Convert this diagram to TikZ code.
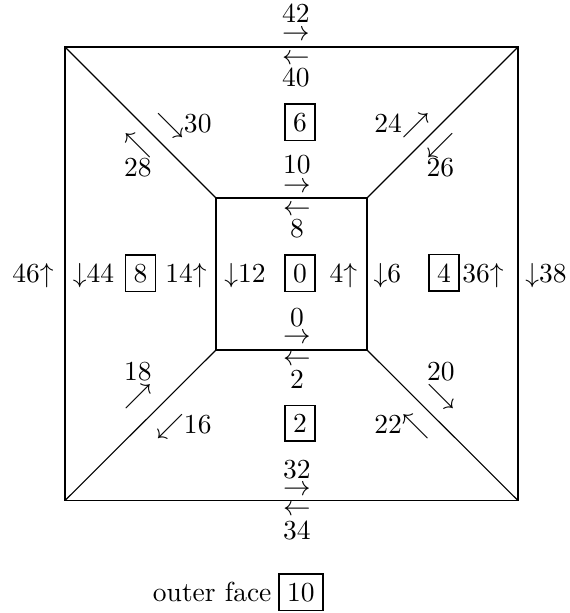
\documentclass[tikz,border=0pt]{standalone}
\begin{document}
\begin{tikzpicture}[x=0.3636pt,y=-0.3636pt,
  lab/.style={inner sep=0pt},
  txt/.style={inner sep=0pt, anchor=base},
  facebox/.style={draw, line width=0.6pt, inner xsep=3pt, inner ysep=3.2pt, anchor=base},
  edgeline/.style={line width=0.4pt}]
\useasboundingbox (0,0) rectangle (570,613);
% vertices
\coordinate (o1) at (65,47);
\coordinate (o2) at (518,47);
\coordinate (o3) at (518,500.5);
\coordinate (o4) at (65,500.5);
\coordinate (i1) at (216,198);
\coordinate (i2) at (367,198);
\coordinate (i3) at (367,350);
\coordinate (i4) at (216,350);
% edges
\draw[edgeline] (o1) -- (o2) -- (o3) -- (o4) -- cycle;
\draw[edgeline] (i1) -- (i2) -- (i3) -- (i4) -- cycle;
\draw[edgeline] (o1) -- (i1);
\draw[edgeline] (o2) -- (i2);
\draw[edgeline] (o3) -- (i3);
\draw[edgeline] (o4) -- (i4);
% horizontal edge labels
\node[lab] (n42) at (296,13.5) {42};
\node[lab] (a42) at (296,35.5) {$\rightarrow$};
\node[lab] (a40) at (296,59.5) {$\leftarrow$};
\node[lab] (n40) at (296,77) {40};
\node[lab] (n10) at (297,165) {10};
\node[lab] (a10) at (297,187.5) {$\rightarrow$};
\node[lab] (a8) at (297,210.5) {$\leftarrow$};
\node[lab] (n8) at (297,229) {8};
\node[lab] (n0) at (297,318) {0};
\node[lab] (a0) at (297,338) {$\rightarrow$};
\node[lab] (a2) at (297,360.5) {$\leftarrow$};
\node[lab] (n2) at (297,379) {2};
\node[lab] (n32) at (297,470) {32};
\node[lab] (a32) at (297,490.5) {$\rightarrow$};
\node[lab] (a34) at (297,510.5) {$\leftarrow$};
\node[lab] (n34) at (297,530) {34};
% diagonal edge labels
\node[lab] (a28) at (138,146) {$\nwarrow$};
\node[lab] (n28) at (138,168) {28};
\node[lab] (a26) at (440.5,146) {$\swarrow$};
\node[lab] (n26) at (440.5,168) {26};
\node[lab] (n18) at (138,372) {18};
\node[lab] (a18) at (138,397) {$\nearrow$};
\node[lab] (n20) at (441,372) {20};
\node[lab] (a20) at (441,397) {$\searrow$};
\node[txt] (l30) at (184,132) {$\searrow$30};
\node[txt] (l24) at (402,132) {24$\nearrow$};
\node[txt] (l16) at (184,433.5) {$\swarrow$16};
\node[txt] (l22) at (402,433.5) {22$\nwarrow$};
% vertical edge labels
\node[txt] (l46) at (33,282.5) {46$\uparrow$};
\node[txt] (l44) at (93.5,282.5) {$\downarrow$44};
\node[txt] (l14) at (186,282.5) {14$\uparrow$};
\node[txt] (l12) at (245,282.5) {$\downarrow$12};
\node[txt] (l4) at (343.5,282.5) {4$\uparrow$};
\node[txt] (l6) at (387.5,282.5) {$\downarrow$6};
\node[txt] (l36) at (483,282.5) {36$\uparrow$};
\node[txt] (l38) at (546,282.5) {$\downarrow$38};
% faces
\node[facebox] (f6) at (300,131) {6};
\node[facebox] (f8) at (140.5,282) {8};
\node[facebox] (f0) at (300,282) {0};
\node[facebox] (f4) at (444,282) {4};
\node[facebox] (f2) at (300,432.5) {2};
\node[facebox] (f10) at (301,601) {10};
\node[txt, anchor=base east] (outer) at (272,601) {outer face};
\end{tikzpicture}
\end{document}
